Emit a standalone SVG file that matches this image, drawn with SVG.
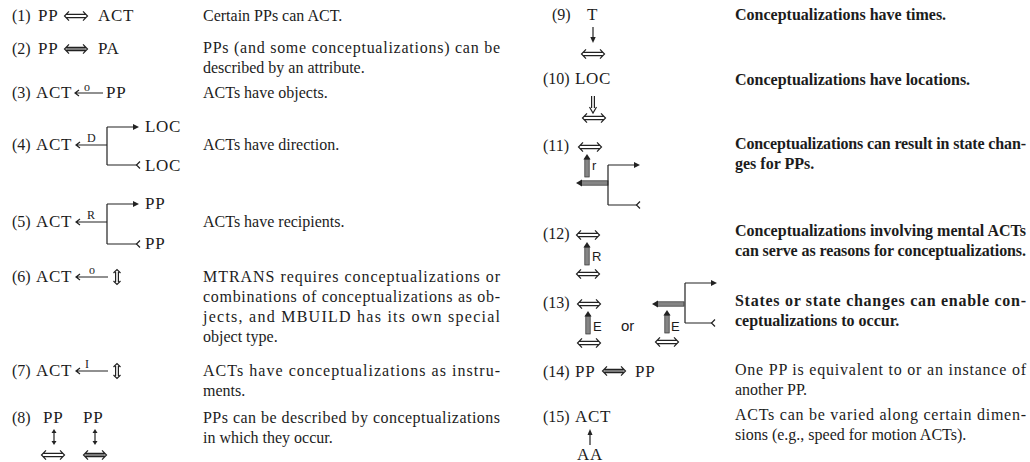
<svg xmlns="http://www.w3.org/2000/svg" xmlns:xlink="http://www.w3.org/1999/xlink" width="1030" height="462" viewBox="0 0 1030 462">
  <style>
    .f { font-family: "Liberation Serif", "Times New Roman", serif; font-size: 17px; letter-spacing: 0.7px; fill: #1c1c1c; }
    .n { font-family: "Liberation Serif", "Times New Roman", serif; font-size: 16px; fill: #1c1c1c; }
    .d { font-family: "Liberation Serif", "Times New Roman", serif; font-size: 16px; fill: #1c1c1c; }
    .b { font-weight: bold; }
    .lb { font-family: "Liberation Serif", serif; font-size: 12px; fill: #1c1c1c; }
    .ls { font-family: "Liberation Sans", Arial, sans-serif; font-size: 13px; fill: #1c1c1c; }
    .ln { fill: none; stroke: #222; stroke-width: 1.2; }
    .hd { fill: #222; stroke: none; }
    .thk { fill: #858585; stroke: #333; stroke-width: 0.7; }
  </style>
  <defs>
    <!-- two-way double-line link -->
    <g id="dbl">
      <path class="ln" stroke-width="1" d="M-9.8,-1.6 H9.8 M-9.8,1.6 H9.8 M-7,-4.6 L-11.5,0 L-7,4.6 M7,-4.6 L11.5,0 L7,4.6"/>
    </g>
    <g id="dblf">
      <rect x="-9.8" y="-1.7" width="19.6" height="3.4" fill="#7a7a7a"/>
      <path class="ln" stroke-width="1" d="M-9.8,-1.7 H9.8 M-9.8,1.7 H9.8 M-7,-4.6 L-11.5,0 L-7,4.6 M7,-4.6 L11.5,0 L7,4.6"/>
    </g>
    <!-- small vertical two-way double-line link -->
    <g id="vdbl">
      <path class="ln" stroke-width="0.9" d="M-1.4,-5 V5 M1.4,-5 V5 M-3.5,-4 L0,-7.5 L3.5,-4 M-3.5,4 L0,7.5 L3.5,4"/>
    </g>
    <!-- vertical single-line two-way arrow -->
    <g id="vsgl">
      <path class="ln" stroke-width="1" d="M0,-6 V6"/>
      <path class="hd" d="M-2.5,-4 L0,-8 L2.5,-4 Z M-2.5,4 L0,8 L2.5,4 Z"/>
    </g>
    <!-- shaded causal arrow pointing up -->
    <g id="thup">
      <rect class="thk" x="-2.2" y="-7" width="4.4" height="18"/>
      <path class="hd" d="M-3.6,-6.5 L0,-12 L3.6,-6.5 Z"/>
    </g>
    <!-- left-pointing shaded arrow into a branch -->
    <g id="thleft">
      <rect class="thk" x="5" y="-2.2" width="27" height="4.4"/>
      <path class="hd" d="M6,-3.6 L0,0 L6,3.6 Z"/>
    </g>
  </defs>

  <rect width="1030" height="462" fill="#ffffff"/>

  <!-- ===== left column ===== -->
  <g id="rule-1">
    <text class="n" x="12" y="21">(1)</text>
    <text class="f" x="38" y="21">PP</text>
    <text class="f" x="98" y="21">ACT</text>
    <text class="d" x="203" y="21">Certain PPs can ACT.</text>
  </g>
  <g id="rule-2">
    <text class="n" x="12" y="54">(2)</text>
    <text class="f" x="38" y="54">PP</text>
    <text class="f" x="98" y="54">PA</text>
    <text class="d" x="203" y="53" textLength="297" lengthAdjust="spacing">PPs (and some conceptualizations) can be</text>
    <text class="d" x="203" y="73">described by an attribute.</text>
  </g>
  <g id="rule-3">
    <text class="n" x="12" y="98">(3)</text>
    <text class="f" x="36" y="98">ACT</text>
    <text class="lb" x="84" y="91">o</text>
    <text class="f" x="106" y="98">PP</text>
    <text class="d" x="203" y="98">ACTs have objects.</text>
  </g>
  <g id="rule-4">
    <text class="n" x="12" y="150">(4)</text>
    <text class="f" x="36" y="150">ACT</text>
    <text class="lb" x="87" y="142">D</text>
    <text class="f" x="145" y="132">LOC</text>
    <text class="f" x="145" y="171">LOC</text>
    <text class="d" x="203" y="150">ACTs have direction.</text>
  </g>
  <g id="rule-5">
    <text class="n" x="12" y="227">(5)</text>
    <text class="f" x="36" y="227">ACT</text>
    <text class="lb" x="87" y="219">R</text>
    <text class="f" x="145" y="209">PP</text>
    <text class="f" x="145" y="249">PP</text>
    <text class="d" x="203" y="227">ACTs have recipients.</text>
  </g>
  <g id="rule-6">
    <text class="n" x="12" y="282">(6)</text>
    <text class="f" x="36" y="282">ACT</text>
    <text class="lb" x="89" y="274">o</text>
    <text class="d" x="203" y="282" textLength="297" lengthAdjust="spacing">MTRANS requires conceptualizations or</text>
    <text class="d" x="203" y="302" textLength="297" lengthAdjust="spacing">combinations of conceptualizations as ob-</text>
    <text class="d" x="203" y="322" textLength="297" lengthAdjust="spacing">jects, and MBUILD has its own special</text>
    <text class="d" x="203" y="342">object type.</text>
  </g>
  <g id="rule-7">
    <text class="n" x="12" y="376">(7)</text>
    <text class="f" x="36" y="376">ACT</text>
    <text class="lb" x="85" y="368">I</text>
    <text class="d" x="203" y="376" textLength="297" lengthAdjust="spacing">ACTs have conceptualizations as instru-</text>
    <text class="d" x="203" y="396">ments.</text>
  </g>
  <g id="rule-8">
    <text class="n" x="12" y="423">(8)</text>
    <text class="f" x="43" y="423">PP</text>
    <text class="f" x="83" y="423">PP</text>
    <text class="d" x="203" y="423" textLength="297" lengthAdjust="spacing">PPs can be described by conceptualizations</text>
    <text class="d" x="203" y="443">in which they occur.</text>
  </g>

  <!-- ===== right column ===== -->
  <g id="rule-9">
    <text class="n" x="552" y="20">(9)</text>
    <text class="f" x="587" y="20">T</text>
    <text class="d b" x="735" y="20">Conceptualizations have times.</text>
  </g>
  <g id="rule-10">
    <text class="n" x="543" y="84">(10)</text>
    <text class="f" x="575" y="84">LOC</text>
    <text class="d b" x="735" y="85">Conceptualizations have locations.</text>
  </g>
  <g id="rule-11">
    <text class="n" x="543" y="151">(11)</text>
    <text class="ls" x="592" y="170">r</text>
    <text class="d b" x="735" y="149" textLength="291" lengthAdjust="spacing">Conceptualizations can result in state chan-</text>
    <text class="d b" x="735" y="169">ges for PPs.</text>
  </g>
  <g id="rule-12">
    <text class="n" x="543" y="239">(12)</text>
    <text class="ls" x="592" y="261">R</text>
    <text class="d b" x="735" y="236" textLength="291" lengthAdjust="spacing">Conceptualizations involving mental ACTs</text>
    <text class="d b" x="735" y="256" textLength="291" lengthAdjust="spacing">can serve as reasons for conceptualizations.</text>
  </g>
  <g id="rule-13">
    <text class="n" x="543" y="308">(13)</text>
    <text class="ls" x="593" y="331">E</text>
    <text class="ls" x="621" y="331" style="font-size:15px">or</text>
    <text class="ls" x="671" y="331">E</text>
    <text class="d b" x="735" y="306" textLength="291" lengthAdjust="spacing">States or state changes can enable con-</text>
    <text class="d b" x="735" y="326">ceptualizations to occur.</text>
  </g>
  <g id="rule-14">
    <text class="n" x="543" y="377">(14)</text>
    <text class="f" x="575" y="377">PP</text>
    <text class="f" x="635" y="377">PP</text>
    <text class="d" x="735" y="375" textLength="291" lengthAdjust="spacing">One PP is equivalent to or an instance of</text>
    <text class="d" x="735" y="395">another PP.</text>
  </g>
  <g id="rule-15">
    <text class="n" x="543" y="422">(15)</text>
    <text class="f" x="575" y="422">ACT</text>
    <text class="f" x="577" y="460">AA</text>
    <text class="d" x="735" y="420" textLength="291" lengthAdjust="spacing">ACTs can be varied along certain dimen-</text>
    <text class="d" x="735" y="440">sions (e.g., speed for motion ACTs).</text>
  </g>

  <!-- ===== connectors ===== -->
  <g id="connectors">
    <!-- (1), (2) -->
    <use xlink:href="#dbl" x="76" y="16"/>
    <use xlink:href="#dblf" x="76" y="49"/>
    <!-- (3) object link -->
    <path class="ln" d="M75,93 H103 M79,90 L75,93 L79,96"/>
    <!-- (4) direction -->
    <path class="ln" d="M76,145 H107 M80,142 L76,145 L80,148"/>
    <path class="ln" d="M107,127 V165 M107,127 H136 M107,165 H137"/>
    <path class="hd" d="M133,124 L139,127 L133,130 Z"/>
    <path class="ln" d="M140,161.5 L136.5,165 L140,168.5"/>
    <!-- (5) recipient -->
    <path class="ln" d="M76,222 H107 M80,219 L76,222 L80,225"/>
    <path class="ln" d="M107,204 V244 M107,204 H136 M107,244 H137"/>
    <path class="hd" d="M133,201 L139,204 L133,207 Z"/>
    <path class="ln" d="M140,240.5 L136.5,244 L140,247.5"/>
    <!-- (6) -->
    <path class="ln" d="M76,277 H108 M80,274 L76,277 L80,280"/>
    <use xlink:href="#vdbl" x="117" y="277"/>
    <!-- (7) -->
    <path class="ln" d="M76,371 H108 M80,368 L76,371 L80,374"/>
    <use xlink:href="#vdbl" x="117" y="371"/>
    <!-- (8) -->
    <use xlink:href="#vsgl" x="54" y="437"/>
    <use xlink:href="#vsgl" x="95" y="437"/>
    <use xlink:href="#dbl" x="53" y="455"/>
    <use xlink:href="#dblf" x="95" y="455"/>

    <!-- (9) time -->
    <path class="ln" d="M593,27 V38"/>
    <path class="hd" d="M590.3,37 L593,43 L595.7,37 Z"/>
    <use xlink:href="#dbl" x="593" y="54"/>
    <!-- (10) location -->
    <path class="ln" stroke-width="0.9" d="M591.6,96 V108 M594.4,96 V108 M589.5,107 L593,113 L596.5,107"/>
    <use xlink:href="#dbl" x="594" y="118"/>
    <!-- (11) result -->
    <use xlink:href="#dbl" x="590" y="147"/>
    <use xlink:href="#thup" x="587" y="166"/>
    <use xlink:href="#thleft" x="576" y="183"/>
    <path class="ln" d="M608,165 V205 M608,165 H637 M608,205 H637"/>
    <path class="hd" d="M634,162 L640,165 L634,168 Z"/>
    <path class="ln" d="M640,201.5 L636.5,205 L640,208.5"/>
    <!-- (12) reason -->
    <use xlink:href="#dbl" x="588" y="235"/>
    <use xlink:href="#thup" x="587" y="254"/>
    <use xlink:href="#dbl" x="588" y="274"/>
    <!-- (13) enablement -->
    <use xlink:href="#dbl" x="589" y="304"/>
    <use xlink:href="#thup" x="588" y="323"/>
    <use xlink:href="#dbl" x="589" y="343"/>
    <use xlink:href="#thleft" x="652" y="304"/>
    <path class="ln" d="M685,283 V323 M685,283 H714 M685,323 H712"/>
    <path class="hd" d="M711,280 L717,283 L711,286 Z"/>
    <path class="ln" d="M715,319.5 L711.5,323 L715,326.5"/>
    <use xlink:href="#thup" x="667" y="322"/>
    <use xlink:href="#dbl" x="667" y="342"/>
    <!-- (14) -->
    <use xlink:href="#dblf" x="614" y="371"/>
    <!-- (15) -->
    <path class="ln" d="M590,434 V445"/>
    <path class="hd" d="M587.5,435 L590,429 L592.5,435 Z"/>
  </g>
</svg>
